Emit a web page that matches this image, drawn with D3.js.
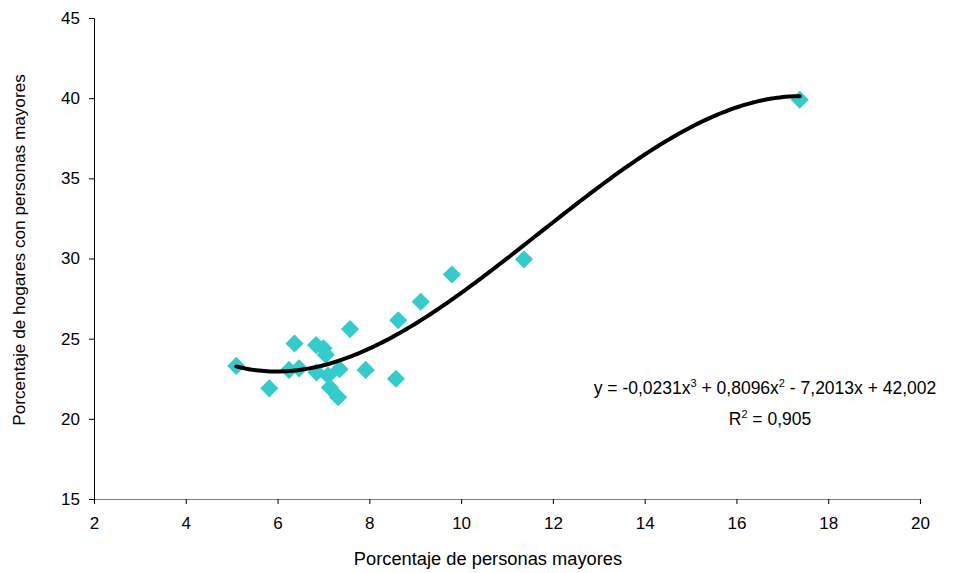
<!DOCTYPE html>
<html><head><meta charset="utf-8">
<script src="https://cdn.jsdelivr.net/npm/d3@7"></script>
<style>body{margin:0;background:#fff}svg{display:block}text{font-family:"Liberation Sans",Arial,sans-serif}</style>
</head><body>
<script>
const xValues = [5.1, 5.82, 6.37, 6.25, 6.47, 6.84, 7.0, 7.05, 6.85, 7.1, 7.14, 7.32, 7.35, 7.58, 7.92, 8.58, 8.63, 9.12, 9.8, 11.37, 17.38];
const yValues = [23.3, 21.9, 24.7, 23.05, 23.15, 24.6, 24.4, 24.0, 22.9, 22.7, 21.95, 21.35, 23.1, 25.6, 23.05, 22.5, 26.15, 27.3, 29.0, 29.95, 39.9];
const xTicks = [2, 4, 6, 8, 10, 12, 14, 16, 18, 20];
const yTicks = [15, 20, 25, 30, 35, 40, 45];
const trendCoef = [-0.0231, 0.8096, -7.2013, 42.002]; // cubic trendline
const xLabel = "Porcentaje de personas mayores";
const yLabel = "Porcentaje de hogares con personas mayores";

const W = 953, H = 573;
const svg = d3.select("body").append("svg").attr("width", W).attr("height", H);
const x = d3.scaleLinear().domain([2, 20]).range([94, 920]);
const y = d3.scaleLinear().domain([15, 45]).range([499, 18]);

// x axis
const gx = svg.append("g").attr("transform", `translate(0,${y(15)})`)
  .call(d3.axisBottom(x).tickValues(xTicks).tickSize(5).tickPadding(13).tickFormat(d3.format("d")));
gx.select(".domain").attr("stroke", "#808080").attr("stroke-width", 1.2);
gx.selectAll(".tick line").attr("stroke", "#000");
gx.selectAll("text").attr("font-size", 17).attr("fill", "#000").attr("font-family", "Liberation Sans, Arial, sans-serif");

// y axis
const gy = svg.append("g").attr("transform", `translate(${x(2)},0)`)
  .call(d3.axisLeft(y).tickValues(yTicks).tickSize(5).tickPadding(9).tickFormat(d3.format("d")));
gy.select(".domain").attr("stroke", "#000");
gy.selectAll(".tick line").attr("stroke", "#000");
gy.selectAll("text").attr("font-size", 17).attr("fill", "#000").attr("font-family", "Liberation Sans, Arial, sans-serif");

// labels
svg.append("text").attr("x", 488).attr("y", 565).attr("text-anchor", "middle").attr("font-size", 18.3).text(xLabel);
svg.append("text").attr("transform", `translate(25,${250}) rotate(-90)`).attr("text-anchor", "middle").attr("font-size", 17.2).text(yLabel);

// points
const sym = d3.symbol().type(d3.symbolSquare).size(165);
svg.append("g").selectAll("path").data(xValues.map((v, i) => [v, yValues[i]])).join("path")
  .attr("d", sym)
  .attr("transform", d => `translate(${x(d[0])},${y(d[1])}) rotate(45)`)
  .attr("fill", "#33CCCC");

// trendline
const poly = t => ((trendCoef[0] * t + trendCoef[1]) * t + trendCoef[2]) * t + trendCoef[3];
const xMin = d3.min(xValues), xMax = d3.max(xValues);
const samples = d3.range(0, 201).map(i => xMin + (xMax - xMin) * i / 200);
svg.append("path").datum(samples)
  .attr("d", d3.line().x(t => x(t)).y(t => y(poly(t))))
  .attr("fill", "none").attr("stroke", "#000").attr("stroke-width", 4).attr("stroke-linecap", "round");

// equation
const eq = svg.append("text").attr("x", 765).attr("y", 394).attr("text-anchor", "middle").attr("font-size", 17.5);
eq.append("tspan").text("y = -0,0231x");
eq.append("tspan").attr("font-size", 11).attr("dy", -7).text("3");
eq.append("tspan").attr("dy", 7).text(" + 0,8096x");
eq.append("tspan").attr("font-size", 11).attr("dy", -7).text("2");
eq.append("tspan").attr("dy", 7).text(" - 7,2013x + 42,002");
const r2 = svg.append("text").attr("x", 770).attr("y", 425).attr("text-anchor", "middle").attr("font-size", 17.5);
r2.append("tspan").text("R");
r2.append("tspan").attr("font-size", 11).attr("dy", -7).text("2");
r2.append("tspan").attr("dy", 7).text(" = 0,905");
</script>
</body></html>
